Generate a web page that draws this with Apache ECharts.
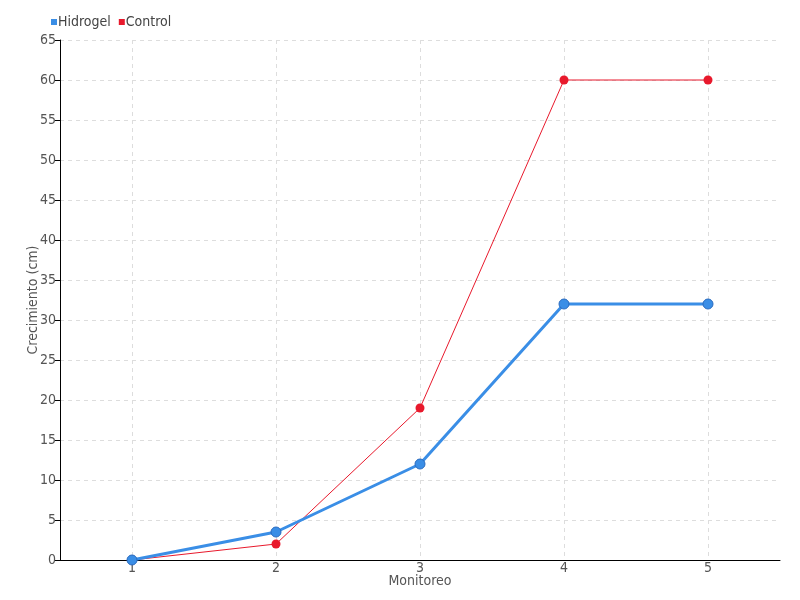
<!DOCTYPE html>
<html><head><meta charset="utf-8">
<script src="https://cdn.jsdelivr.net/npm/echarts@6/dist/echarts.min.js"></script>
<style>html,body{margin:0;padding:0;background:#fff}#c{width:800px;height:600px}</style>
</head><body><div id="c"></div>
<script>
const categories = ['1', '2', '3', '4', '5'];
const hidrogel = [0, 3.5, 12, 32, 32];
const control = [0, 2, 19, 60, 60];
const seriesNames = ['Hidrogel', 'Control'];
const FONT = '"DejaVu Sans Condensed", "Liberation Sans Narrow", sans-serif';
const chart = echarts.init(document.getElementById('c'));
chart.setOption({
  animation: false,
  textStyle: { fontFamily: FONT },
  legend: {
    left: 46, top: 10, itemWidth: 6, itemHeight: 6, itemGap: 8,
    icon: 'rect',
    itemStyle: { borderWidth: 0 },
    textStyle: { fontSize: 14, color: '#444', fontFamily: FONT, padding: [0, 0, 0, -4] },
    data: seriesNames
  },
  grid: { left: 60, right: 20, top: 40, bottom: 40 },
  xAxis: {
    type: 'category', data: categories, boundaryGap: true,
    name: 'Monitoreo', nameLocation: 'middle', nameGap: 14, nameMoveOverlap: false,
    nameTextStyle: { fontSize: 14, color: '#555', fontFamily: FONT },
    axisLine: { lineStyle: { color: '#000', width: 1 } },
    axisTick: { alignWithLabel: true, length: 5, lineStyle: { color: '#555' } },
    axisLabel: { fontSize: 14, color: '#555', margin: 1, fontFamily: FONT },
    splitLine: { show: true, alignWithLabel: true, lineStyle: { type: [4, 4], color: '#ddd' } }
  },
  yAxis: {
    type: 'value', min: 0, max: 65, interval: 5,
    name: 'Crecimiento (cm)', nameLocation: 'middle', nameGap: 20, nameMoveOverlap: false,
    nameTextStyle: { fontSize: 14, color: '#555', fontFamily: FONT },
    axisLine: { show: true, lineStyle: { color: '#000', width: 1 } },
    axisTick: { show: true, length: 5, lineStyle: { color: '#000' } },
    axisLabel: { fontSize: 14, color: '#555', margin: 4, fontFamily: FONT },
    splitLine: { show: true, lineStyle: { type: [4, 4], color: '#ddd' } }
  },
  series: [
    {
      name: seriesNames[0], type: 'line', data: hidrogel,
      color: '#3a8ee6', symbol: 'circle', symbolSize: 10,
      lineStyle: { width: 3, color: '#3a8ee6' },
      itemStyle: { color: '#3a8ee6', borderColor: '#2a6bbf', borderWidth: 1 },
      z: 3
    },
    {
      name: seriesNames[1], type: 'line', data: control,
      color: '#e8192c', symbol: 'circle', symbolSize: 9,
      lineStyle: { width: 1, color: '#e8192c' },
      itemStyle: { color: '#e8192c' },
      z: 2
    }
  ]
});
</script></body></html>
